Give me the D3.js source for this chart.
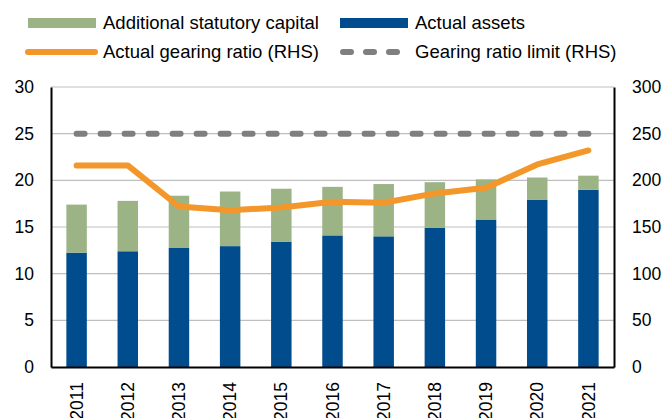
<!DOCTYPE html>
<html>
<head>
<meta charset="utf-8">
<script src="https://cdn.jsdelivr.net/npm/d3@7"></script>
<style>
  body { margin: 0; background: #fff; }
  svg { display: block; font-family: "Liberation Sans", Arial, sans-serif; }
</style>
</head>
<body>
<svg></svg>
<script>
const years = ['2011', '2012', '2013', '2014', '2015', '2016', '2017', '2018', '2019', '2020', '2021'];
const actualAssets = [12.25, 12.4, 12.75, 12.95, 13.4, 14.1, 14.0, 14.9, 15.8, 17.9, 19.0];
const additionalCapital = [5.15, 5.4, 5.6, 5.85, 5.7, 5.2, 5.6, 4.9, 4.3, 2.4, 1.5];
const gearingRatio = [216, 216, 172, 168, 171, 177, 176, 186, 192, 217, 232];
const gearingLimit = [250, 250, 250, 250, 250, 250, 250, 250, 250, 250, 250];
const leftTicks = [0, 5, 10, 15, 20, 25, 30];
const rightTicks = [0, 50, 100, 150, 200, 250, 300];

const svgWidth = 665;
const svgHeight = 418;
const margin = { top: 87, right: 50, bottom: 51, left: 51 };
const width = 614 - margin.left;
const height = 367 - margin.top;

const colors = {
    assets: '#004c8c',
    extra: '#9bb385',
    ratio: '#f3972b',
    limit: '#7f7f7f'
};

const root = d3.select('svg')
    .attr('width', svgWidth)
    .attr('height', svgHeight);

const svg = root.append('g')
    .attr('transform', `translate(${margin.left}, ${margin.top})`);

const xScale = d3.scaleBand()
    .domain(years)
    .range([0, width])
    .paddingInner(0.6)
    .paddingOuter(0.3);

const yLeft = d3.scaleLinear().domain([0, 30]).range([height, 0]);
const yRight = d3.scaleLinear().domain([0, 300]).range([height, 0]);

// gridlines
svg.append('g')
    .selectAll('line')
    .data(leftTicks.slice(1))
    .enter().append('line')
    .attr('x1', 0)
    .attr('x2', width)
    .attr('y1', d => yLeft(d))
    .attr('y2', d => yLeft(d))
    .attr('stroke', '#bfbfbf')
    .attr('stroke-width', 1.2);

const stackData = years.map((y, i) => ({ year: y, assets: actualAssets[i], extra: additionalCapital[i] }));
const series = d3.stack().keys(['assets', 'extra'])(stackData);

svg.append('g')
    .selectAll('g')
    .data(series)
    .enter().append('g')
    .attr('fill', d => colors[d.key])
    .selectAll('rect')
    .data(d => d)
    .enter().append('rect')
    .attr('x', d => xScale(d.data.year))
    .attr('y', d => yLeft(d[1]))
    .attr('width', xScale.bandwidth())
    .attr('height', d => yLeft(d[0]) - yLeft(d[1]));

const cx = d => xScale(d) + xScale.bandwidth() / 2;

svg.append('path')
    .datum(gearingLimit)
    .attr('fill', 'none')
    .attr('stroke', colors.limit)
    .attr('stroke-width', 6)
    .attr('stroke-linecap', 'round')
    .attr('stroke-dasharray', '8 16')
    .attr('d', d3.line().x((d, i) => cx(years[i])).y(d => yRight(d)));

svg.append('path')
    .datum(gearingRatio)
    .attr('fill', 'none')
    .attr('stroke', colors.ratio)
    .attr('stroke-width', 6)
    .attr('stroke-linecap', 'round')
    .attr('stroke-linejoin', 'round')
    .attr('d', d3.line().x((d, i) => cx(years[i])).y(d => yRight(d)));

// axes
const leftAxis = svg.append('g')
    .call(d3.axisLeft(yLeft).tickValues(leftTicks).tickSize(0).tickPadding(17));
const rightAxis = svg.append('g')
    .attr('transform', `translate(${width}, 0)`)
    .call(d3.axisRight(yRight).tickValues(rightTicks).tickSize(0).tickPadding(18));
const bottomAxis = svg.append('g')
    .attr('transform', `translate(0, ${height})`)
    .call(d3.axisBottom(xScale).tickSize(0));

[leftAxis, rightAxis, bottomAxis].forEach(a => {
    a.select('.domain').attr('stroke', '#000').attr('stroke-width', 2);
    a.selectAll('text')
        .attr('font-family', '"Liberation Sans", Arial, sans-serif')
        .attr('font-size', '17.5px')
        .attr('fill', '#000');
});

bottomAxis.selectAll('text')
    .attr('transform', 'rotate(-90)')
    .attr('text-anchor', 'end')
    .attr('x', -15)
    .attr('y', 0)
    .attr('dy', '0.35em');

// legend
const legend = root.append('g')
    .attr('font-size', '18.5px')
    .attr('fill', '#000');

const legendItems = [
    { label: 'Additional statutory capital', x: 28, y: 23, type: 'bar', color: colors.extra },
    { label: 'Actual assets', x: 340, y: 23, type: 'bar', color: colors.assets },
    { label: 'Actual gearing ratio (RHS)', x: 28, y: 52, type: 'line', color: colors.ratio },
    { label: 'Gearing ratio limit (RHS)', x: 340, y: 52, type: 'dash', color: colors.limit }
];

legendItems.forEach(item => {
    if (item.type === 'bar') {
        legend.append('rect')
            .attr('x', item.x)
            .attr('y', item.y - 5)
            .attr('width', 68)
            .attr('height', 10)
            .attr('fill', item.color);
    } else if (item.type === 'line') {
        legend.append('line')
            .attr('x1', item.x).attr('x2', item.x + 67)
            .attr('y1', item.y).attr('y2', item.y)
            .attr('stroke', item.color)
            .attr('stroke-width', 6)
            .attr('stroke-linecap', 'round');
    } else {
        legend.append('line')
            .attr('x1', item.x + 3).attr('x2', item.x + 66)
            .attr('y1', item.y).attr('y2', item.y)
            .attr('stroke', item.color)
            .attr('stroke-width', 6)
            .attr('stroke-linecap', 'round')
            .attr('stroke-dasharray', '8 15');
    }
    legend.append('text')
        .attr('x', item.x + 75)
        .attr('y', item.y)
        .attr('dy', '0.35em')
        .text(item.label);
});
</script>
</body>
</html>
